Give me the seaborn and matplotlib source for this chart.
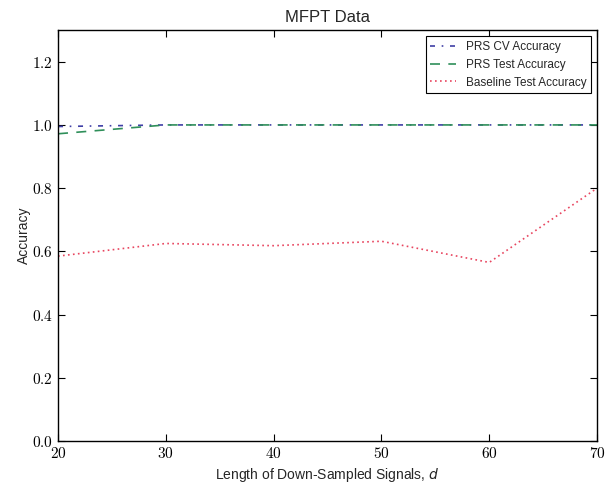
#!/usr/bin/env python3

import matplotlib
matplotlib.use("Agg")
import matplotlib.pyplot as plt
import pandas as pd
import seaborn as sns
from matplotlib.ticker import FuncFormatter

# values
signal_lengths = [20, 30, 40, 50, 60, 70]
prs_cv_accuracy = [0.995, 1.0, 1.0, 1.0, 1.0, 1.0]
prs_test_accuracy = [0.972, 1.0, 1.0, 1.0, 1.0, 1.0]
baseline_test_accuracy = [0.585, 0.625, 0.618, 0.632, 0.565, 0.80]

series_names = ["PRS CV Accuracy", "PRS Test Accuracy", "Baseline Test Accuracy"]

df = pd.DataFrame({
    "d": signal_lengths * 3,
    "accuracy": prs_cv_accuracy + prs_test_accuracy + baseline_test_accuracy,
    "series": [n for n in series_names for _ in signal_lengths],
})

sns.set_style("ticks", {
    "xtick.direction": "in",
    "ytick.direction": "in",
    "axes.edgecolor": "black",
})
plt.rcParams["font.family"] = ["Liberation Sans", "DejaVu Sans"]
plt.rcParams["mathtext.fontset"] = "cm"
plt.rcParams["xtick.top"] = True
plt.rcParams["ytick.right"] = True
plt.rcParams["xtick.major.size"] = 5
plt.rcParams["ytick.major.size"] = 5

fig = plt.figure(figsize=(6.07, 4.84), dpi=100)
ax = fig.add_axes([0.0956, 0.0888, 0.888, 0.849])

palette = {
    "PRS CV Accuracy": "#3f3fa6",
    "PRS Test Accuracy": "#2f8f5a",
    "Baseline Test Accuracy": "#e8455f",
}
styles = {
    "PRS CV Accuracy": (0, (3, 4, 1, 4)),
    "PRS Test Accuracy": (0, (6, 5)),
    "Baseline Test Accuracy": (0, (1, 2)),
}

for name in series_names:
    sub = df[df["series"] == name]
    sns.lineplot(data=sub, x="d", y="accuracy", ax=ax, color=palette[name],
                 linestyle=styles[name], linewidth=1.2, label=name)

ax.set_xlim(20, 70)
ax.set_ylim(0.0, 1.3)
ax.set_xticks(signal_lengths)
ax.set_yticks([0.0, 0.2, 0.4, 0.6, 0.8, 1.0, 1.2])
ax.xaxis.set_major_formatter(FuncFormatter(lambda v, p: f"${v:.0f}$"))
ax.yaxis.set_major_formatter(FuncFormatter(lambda v, p: f"${v:.1f}$"))
ax.tick_params(labelsize=11, width=0.8, colors="black")
for spine in ax.spines.values():
    spine.set_linewidth(1.0)

ax.set_title("MFPT Data", fontsize=12)
ax.set_xlabel("Length of Down-Sampled Signals, $d$", fontsize=10,
              math_fontfamily="dejavusans")
ax.set_ylabel("Accuracy", fontsize=10, labelpad=0.5)

leg = ax.legend(loc="upper right", fontsize=8.5, handlelength=2.2,
                fancybox=False, framealpha=1, borderaxespad=0.5)
leg.get_frame().set_edgecolor("black")
leg.get_frame().set_linewidth(0.8)

plt.savefig("out.png", dpi=100)
plt.close()
